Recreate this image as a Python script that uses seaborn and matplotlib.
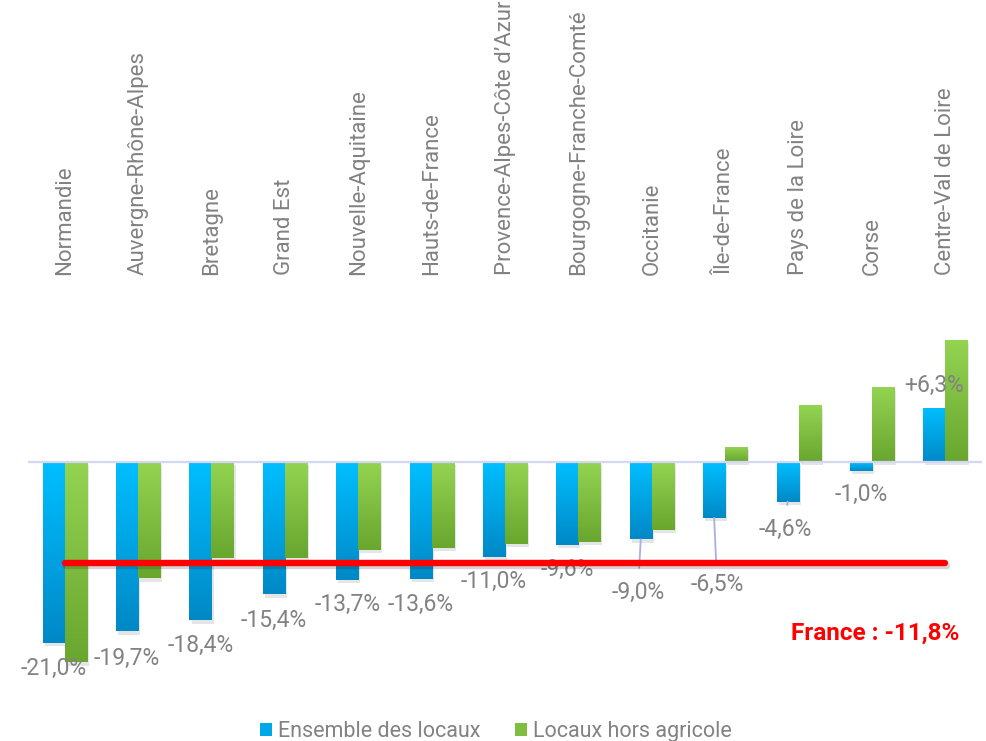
import numpy as np
import pandas as pd
import matplotlib
matplotlib.use("Agg")
import matplotlib.pyplot as plt
import seaborn as sns
from matplotlib.colors import LinearSegmentedColormap
from matplotlib.patches import Patch
import matplotlib.patheffects as pe

# ---------------- data ----------------
regions = ["Normandie", "Auvergne-Rhône-Alpes", "Bretagne", "Grand Est",
           "Nouvelle-Aquitaine", "Hauts-de-France", "Provence-Alpes-Côte d’Azur",
           "Bourgogne-Franche-Comté", "Occitanie", "Île-de-France",
           "Pays de la Loire", "Corse", "Centre-Val de Loire"]
ensemble = [-21.0, -19.7, -18.4, -15.4, -13.7, -13.6, -11.0, -9.6, -9.0, -6.5, -4.6, -1.0, 6.3]
hors_agricole = [-23.3, -13.5, -11.2, -11.2, -10.2, -10.0, -9.5, -9.3, -7.9, 1.8, 6.6, 8.7, 14.2]
series_names = ["Ensemble des locaux", "Locaux hors agricole"]
france_value = -11.8

# label placement (pixel offsets below bar end) and leader-line flags
label_dy = [26, 27, 25, 26, 25, 26, 25, 25, 53, 67, 28, 24, -22]
label_dx = [0, 0, 0, 0, 0, 0, 0, 0, -3, 3, -2, 0, 0]
leader = [False] * 8 + [True, True, True, False, False]

# ---------------- style ----------------
sns.set_theme(style="white")
plt.rcParams["font.family"] = ["Roboto", "DejaVu Sans"]
GRAY = "#828282"
BLUE_TOP, BLUE_BOT = "#00BFFF", "#0088C6"
GREEN_TOP, GREEN_BOT = "#94D452", "#68A62E"

df = pd.DataFrame({
    "region": regions * 2,
    "value": ensemble + hors_agricole,
    "serie": [series_names[0]] * len(regions) + [series_names[1]] * len(regions),
})

fig = plt.figure(figsize=(9.86, 7.41), dpi=100)
ax = fig.add_axes([28 / 986, 0.0748, 954 / 986, 0.499])

sns.barplot(data=df, x="region", y="value", hue="serie",
            palette=[BLUE_TOP, GREEN_TOP], saturation=1, width=0.6,
            linewidth=0, legend=False, ax=ax)

grad = np.linspace(0, 1, 256).reshape(-1, 1)
cmaps = [LinearSegmentedColormap.from_list("b", [BLUE_TOP, BLUE_BOT]),
         LinearSegmentedColormap.from_list("g", [GREEN_TOP, GREEN_BOT])]
shadow = [pe.SimplePatchShadow(offset=(1.5, -2.5), shadow_rgbFace="#000000", alpha=0.10), pe.Normal()]
for cont, cmap in zip(ax.containers, cmaps):
    for rect in cont:
        rect.set_path_effects(shadow)
        x0, y0 = rect.get_x(), rect.get_y()
        w, h = rect.get_width(), rect.get_height()
        ymin, ymax = min(y0, y0 + h), max(y0, y0 + h)
        im = ax.imshow(grad, extent=[x0, x0 + w, ymin, ymax], origin="upper",
                       cmap=cmap, aspect="auto", zorder=rect.get_zorder() + 0.1,
                       interpolation="bilinear")
        im.set_clip_path(rect)

ax.set_xlim(-0.5, len(regions) - 0.5)
ax.set_ylim(-26, 17)
ax.axis("off")

# zero line
ax.axhline(0, color="#d4d7f3", lw=1.6, zorder=5)

# category labels on top
for i, r in enumerate(regions):
    ax.text(i, 21.74, r, rotation=90, ha="center", va="bottom",
            fontsize=16, color=GRAY, clip_on=False)

# value labels for "Ensemble des locaux"
blue_rects = list(ax.containers[0])
for i, (v, rect) in enumerate(zip(ensemble, blue_rects)):
    xc = rect.get_x() + rect.get_width() / 2
    txt = f"{v:+.1f}%".replace(".", ",")
    kw = {}
    if leader[i]:
        kw["arrowprops"] = dict(arrowstyle="-", color="#a9aee6", lw=1.3,
                                shrinkA=7, shrinkB=0)
    ax.annotate(txt, xy=(xc, v), xytext=(label_dx[i], -label_dy[i]),
                textcoords="offset pixels", ha="center", va="center",
                fontsize=16.5, color=GRAY, zorder=8, **kw)

# France reference line
ax.plot([0, len(regions) - 1], [france_value, france_value], color="#FF0000",
        lw=4.6, solid_capstyle="round", zorder=9,
        path_effects=[pe.SimpleLineShadow(offset=(1, -2), alpha=0.18), pe.Normal()])
ax.text(11.04, -19.9, "France : " + f"{france_value:.1f}%".replace(".", ","),
        ha="center", va="center", fontsize=17.5, fontweight="bold", color="#FF0000")

# legend
handles = [Patch(facecolor="#00A8E8", edgecolor="none"),
           Patch(facecolor="#80BE40", edgecolor="none")]
fig.legend(handles, series_names, loc="center", bbox_to_anchor=(0.503, 0.013),
           ncol=2, frameon=False, prop={"size": 15.5}, labelcolor=GRAY,
           handlelength=0.55, handleheight=0.55, handletextpad=0.3,
           columnspacing=1.6)

fig.savefig("out.png", dpi=100)
